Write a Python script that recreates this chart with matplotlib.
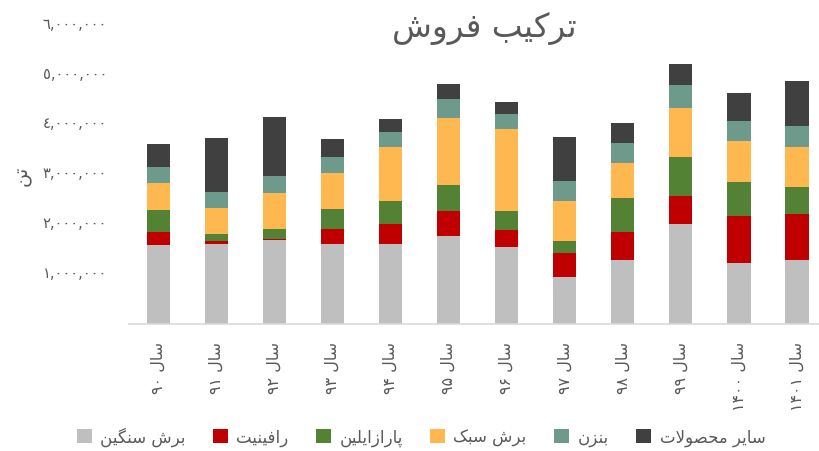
import numpy as np
import matplotlib
matplotlib.use('Agg')
import matplotlib.pyplot as plt
import matplotlib.transforms as mtransforms

# --- data (million tonnes) ---
years = ['۹۰', '۹۱', '۹۲', '۹۳', '۹۴', '۹۵', '۹۶', '۹۷', '۹۸', '۹۹', '۱۴۰۰', '۱۴۰۱']
series_names = ['برش سنگین', 'رافینیت', 'پارازایلین', 'برش سبک', 'بنزن', 'سایر محصولات']
heavy = [1.58, 1.61, 1.68, 1.61, 1.61, 1.77, 1.55, 0.95, 1.29, 2.01, 1.22, 1.29]
raffinate = [0.26, 0.06, 0.03, 0.30, 0.39, 0.50, 0.33, 0.47, 0.56, 0.56, 0.95, 0.92]
paraxylene = [0.45, 0.13, 0.20, 0.39, 0.46, 0.52, 0.39, 0.25, 0.69, 0.78, 0.69, 0.55]
light = [0.54, 0.52, 0.72, 0.73, 1.09, 1.35, 1.65, 0.80, 0.69, 0.99, 0.82, 0.80]
benzene = [0.32, 0.34, 0.34, 0.33, 0.30, 0.37, 0.30, 0.40, 0.40, 0.46, 0.40, 0.42]
other = [0.46, 1.08, 1.18, 0.36, 0.26, 0.30, 0.23, 0.88, 0.40, 0.42, 0.56, 0.89]
colors = ['#BFBFBF', '#C00000', '#548235', '#FFB84F', '#6E9A8B', '#404040']

# --- tiny arabic shaper (matplotlib has no text shaping) ---
FORMS = {
    'ا': ('\uFE8D', '\uFE8E', None, None),
    'ب': ('\uFE8F', '\uFE90', '\uFE91', '\uFE92'),
    'ت': ('\uFE95', '\uFE96', '\uFE97', '\uFE98'),
    'ح': ('\uFEA1', '\uFEA2', '\uFEA3', '\uFEA4'),
    'ر': ('\uFEAD', '\uFEAE', None, None),
    'ز': ('\uFEAF', '\uFEB0', None, None),
    'س': ('\uFEB1', '\uFEB2', '\uFEB3', '\uFEB4'),
    'ش': ('\uFEB5', '\uFEB6', '\uFEB7', '\uFEB8'),
    'ص': ('\uFEB9', '\uFEBA', '\uFEBB', '\uFEBC'),
    'ف': ('\uFED1', '\uFED2', '\uFED3', '\uFED4'),
    'ل': ('\uFEDD', '\uFEDE', '\uFEDF', '\uFEE0'),
    'م': ('\uFEE1', '\uFEE2', '\uFEE3', '\uFEE4'),
    'ن': ('\uFEE5', '\uFEE6', '\uFEE7', '\uFEE8'),
    'و': ('\uFEED', '\uFEEE', None, None),
    'پ': ('\uFB56', '\uFB57', '\uFB58', '\uFB59'),
    'ک': ('\uFB8E', '\uFB8F', '\uFB90', '\uFB91'),
    'گ': ('\uFB92', '\uFB93', '\uFB94', '\uFB95'),
    'ی': ('\uFBFC', '\uFBFD', '\uFBFE', '\uFBFF'),
}


def shape_word(w):
    out = []
    i = 0
    n = len(w)
    while i < n:
        c = w[i]
        if c not in FORMS:
            out.append(c)
            i += 1
            continue
        prev = w[i - 1] if i > 0 else None
        joins_prev = prev in FORMS and FORMS[prev][2] is not None
        if c == 'ل' and i + 1 < n and w[i + 1] == 'ا':
            out.append('\uFEFC' if joins_prev else '\uFEFB')
            i += 2
            continue
        nxt = w[i + 1] if i + 1 < n else None
        joins_next = FORMS[c][2] is not None and nxt in FORMS
        iso, fin, ini, med = FORMS[c]
        if joins_prev and joins_next:
            out.append(med)
        elif joins_prev:
            out.append(fin)
        elif joins_next:
            out.append(ini)
        else:
            out.append(iso)
        i += 1
    return ''.join(out)


def fa(text):
    # split into runs: digits/commas stay LTR, the rest is shaped and reversed
    runs = []
    cur = ''
    cur_num = None
    for ch in text:
        is_num = ch in '۰۱۲۳۴۵۶۷۸۹٠١٢٣٤٥٦٧٨٩0123456789,'
        if cur_num is None or is_num == cur_num:
            cur += ch
        else:
            runs.append((cur, cur_num))
            cur = ch
        cur_num = is_num
    if cur:
        runs.append((cur, cur_num))
    vis = []
    for s, num in runs:
        vis.append(s if num else shape_word(s)[::-1])
    return ''.join(vis[::-1])


def ar_digits(n):
    s = f'{n:,}'
    return s.translate(str.maketrans('0123456789', '٠١٢٣٤٥٦٧٨٩'))


plt.rcParams['font.family'] = ['DejaVu Sans']
txt = '#595959'

fig = plt.figure(figsize=(8.19, 4.52), dpi=100)
ax = fig.add_axes([129.3 / 819, 127 / 452, 696.7 / 819, 298.8 / 452])

data = np.array([heavy, raffinate, paraxylene, light, benzene, other]) * 1e6
x = np.arange(len(years))
bottom = np.zeros(len(years))
for vals, name, col in zip(data, series_names, colors):
    ax.bar(x, vals, 0.4, bottom=bottom, color=col, label=fa(name), zorder=2)
    bottom += vals

ax.set_xlim(-0.5, len(years) - 0.5)
ax.set_ylim(0, 6e6)
yt = np.arange(1, 7) * 1_000_000
ax.set_yticks(yt)
ax.set_yticklabels([ar_digits(int(v)) for v in yt], color=txt, fontsize=10.5)
ax.set_xticks(x)
ax.set_xticklabels([fa('سال ' + y) for y in years], rotation=90, color=txt,
                   fontsize=11.5, va='top')
ax.tick_params(length=0, axis='both', pad=12)
ax.tick_params(axis='y', pad=16)
# labels sit a few px higher in the original
shift = mtransforms.ScaledTranslation(0, 3.5 / 100, fig.dpi_scale_trans)
for lab in ax.get_yticklabels():
    lab.set_transform(lab.get_transform() + shift)
for s in ['top', 'right', 'left']:
    ax.spines[s].set_visible(False)
ax.spines['bottom'].set_color('#D9D9D9')
ax.spines['bottom'].set_linewidth(1.2)

ax.set_ylabel(fa('تن'), color=txt, fontsize=14, labelpad=8)
fig.text(0.591, 0.938, fa('ترکیب فروش'), ha='center', va='center',
         fontsize=23.5, color=txt)

handles, labels = ax.get_legend_handles_labels()
fig.legend(handles, labels, loc='center', bbox_to_anchor=(0.514, 0.033), ncol=6,
           frameon=False, fontsize=12, labelcolor=txt, handlelength=0.9,
           handleheight=0.9, columnspacing=1.65, handletextpad=0.5)

fig.savefig('out.png', dpi=100)
